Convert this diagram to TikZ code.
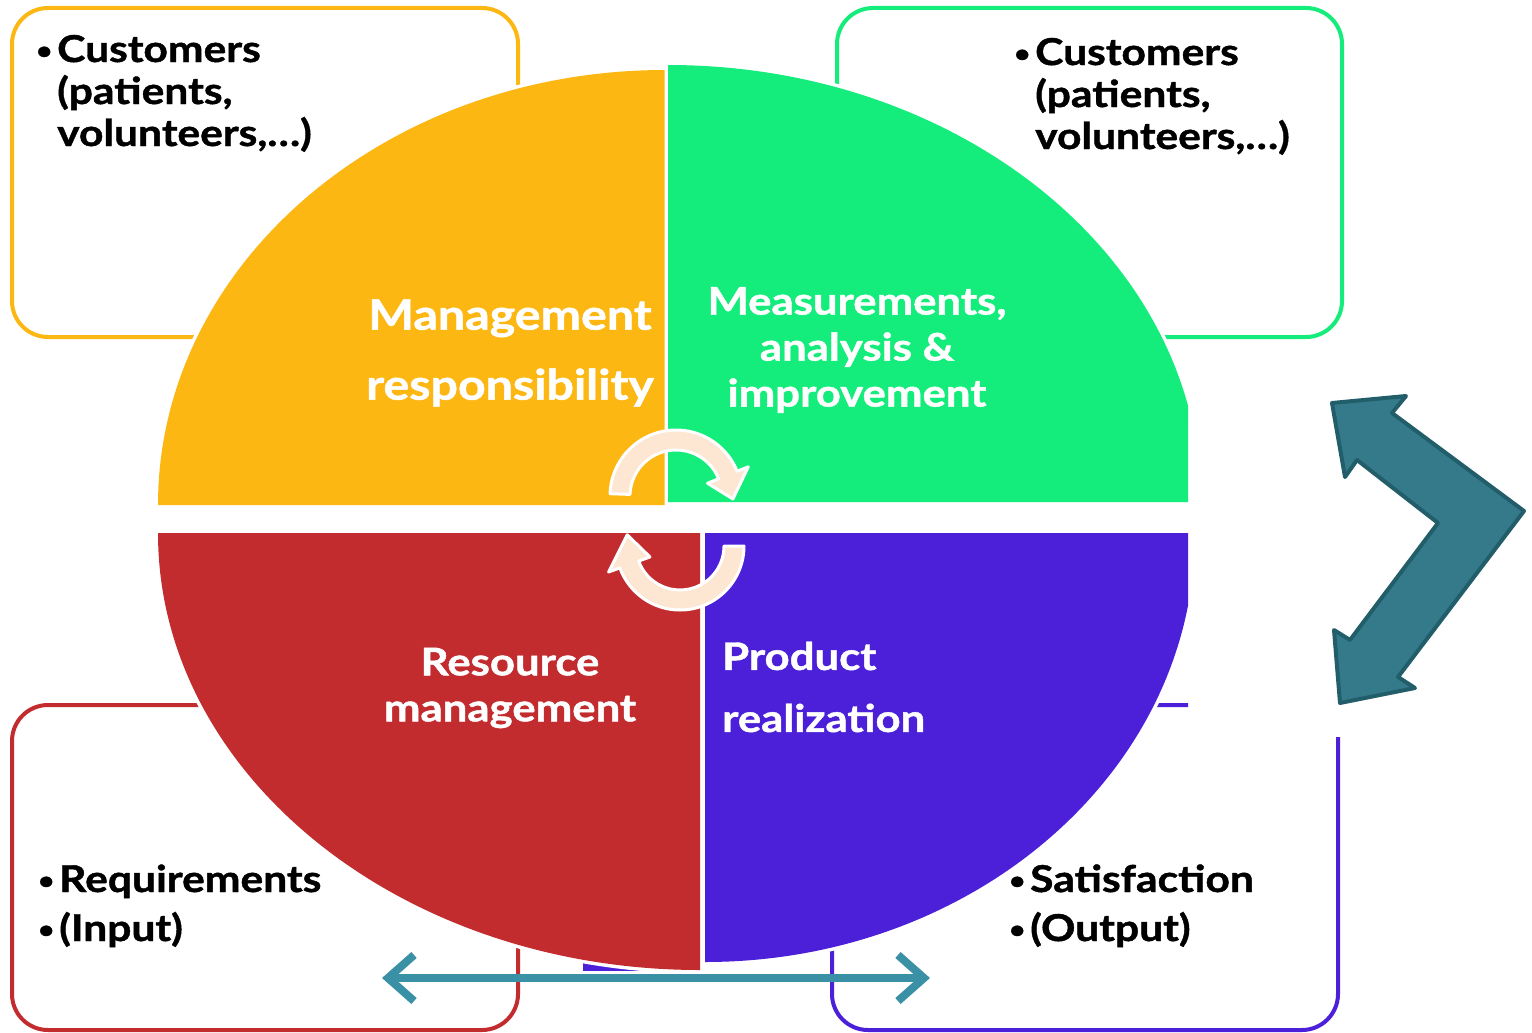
\documentclass[tikz,border=0pt]{standalone}
\usepackage{fontspec}
\setmainfont{Lato}[BoldFeatures={FakeBold=1.2, FakeStretch=1.15}]
\usetikzlibrary{arrows.meta}
\definecolor{qyellow}{HTML}{FCB712}
\definecolor{qgreen}{HTML}{14EC7B}
\definecolor{qred}{HTML}{C22C2F}
\definecolor{qpurple}{HTML}{4B20D8}
\definecolor{chevfill}{HTML}{357A8A}
\definecolor{chevline}{HTML}{225E6A}
\definecolor{flowteal}{HTML}{3A91A5}
\definecolor{peach}{HTML}{FDE6D2}
\newcommand{\bul}{\makebox[21pt][l]{\raisebox{3pt}{\scalebox{0.65}{\textbullet}}}}
\newcommand{\ind}{\hspace*{21pt}}
\tikzset{
  frame/.style={line width=4pt, rounded corners=36pt},
  quad/.style={preaction={draw=white, line width=7pt}},
  boxtext/.style={anchor=base west, align=left, inner sep=0pt,
    font=\bfseries\fontsize{37}{42}\selectfont},
  quadtext/.style={text=white, inner sep=0pt, align=center,
    font=\bfseries\fontsize{38}{46}\selectfont},
  cyclearrow/.style={fill=peach, draw=white, line width=3pt, line join=round},
  chevron/.style={fill=chevfill, draw=chevline, line width=4pt, line join=round},
  flow/.style={{Straight Barb[length=26pt,width=46pt]}-{Straight Barb[length=26pt,width=46pt]},
    draw=flowteal, line width=8pt, line cap=round}
}
\begin{document}
\begin{tikzpicture}[x=1pt, y=-1pt]
  \useasboundingbox (0,0) rectangle (1532,1033);
  % frames behind the ellipse
  \draw[frame, qyellow] (12,8) rectangle (518,337);
  \draw[frame, qgreen] (837,8) rectangle (1342,337);
  \draw[frame, qred] (12,705) rectangle (518,1030);
  \draw[frame, qpurple] (1338,737) -- (1338,1030) -- (832,1030) -- (832,705) -- (1188,705);
  % quadrants
  \fill[qpurple] (583,955) -- (660,955) -- (660,971) -- (583,971) -- cycle;
  \fill[quad, qyellow] (665,505) -- (158,505) arc[start angle=180, end angle=270, x radius=507, y radius=435] -- cycle;
  \fill[quad, qred] (700,533) -- (700,970) arc[start angle=90, end angle=180, x radius=542, y radius=437] -- cycle;
  \begin{scope}
    \clip (0,0) rectangle (1188,1033);
    \fill[quad, qgreen] (668,502) -- (668,65) arc[start angle=270, end angle=360, x radius=533, y radius=437] -- cycle;
    \fill[quad, qpurple] (705,533) -- (1195,533) arc[start angle=0, end angle=90, x radius=490, y radius=429] -- cycle;
  \end{scope}
  % cycle arrows
  \coordinate (cu) at (676,496);
  \coordinate (cl) at (680,546);
  \draw[cyclearrow] ([shift={(182:66)}]cu) arc[start angle=182, end angle=338, radius=66]
    -- ([shift={(338:78)}]cu) -- ([shift={(3:57)}]cu) -- ([shift={(338:34)}]cu)
    -- ([shift={(338:46)}]cu) arc[start angle=338, end angle=182, radius=46] -- cycle;
  \draw[cyclearrow] ([shift={(0:64)}]cl) arc[start angle=0, end angle=160, radius=64]
    -- ([shift={(160:76)}]cl) -- ([shift={(192:54)}]cl) -- ([shift={(160:32)}]cl)
    -- ([shift={(160:44)}]cl) arc[start angle=160, end angle=0, radius=44] -- cycle;
  % quadrant labels
  \node[quadtext, font=\bfseries\fontsize{42}{70}\selectfont] (mgmt) at (510,353) {Management\\responsibility};
  \node[quadtext] (meas) at (857,350) {Measurements,\\analysis \&\\improvement};
  \node[quadtext] (res) at (510,688) {Resource\\management};
  \node[quadtext, align=left, anchor=west, font=\bfseries\fontsize{38}{62}\selectfont] (prod) at (722,687) {Product\\realization};
  % box texts
  \node[boxtext] (custL) at (36,146) {\bul Customers\\\ind(patients,\\\ind volunteers,\dots)};
  \node[boxtext] (custR) at (1014,149) {\bul Customers\\\ind(patients,\\\ind volunteers,\dots)};
  \node[boxtext, font=\bfseries\fontsize{37}{49}\selectfont] (req) at (38,941) {\bul Requirements\\\bul(Input)};
  \node[boxtext, font=\bfseries\fontsize{37}{49}\selectfont] (sat) at (1009,941) {\bul Satisfaction\\\bul(Output)};
  % arrows
  \draw[chevron] (1332,403) -- (1406,396) -- (1392,413) -- (1524,511) -- (1398,677) -- (1415,688)
    -- (1340,703) -- (1334,630) -- (1350,640) -- (1438,523) -- (1357,460) -- (1345,477) -- cycle;
  \coordinate (inend) at (382,978);
  \coordinate (outend) at (930,978);
  \draw[flow] (inend) -- (outend);
\end{tikzpicture}
\end{document}
